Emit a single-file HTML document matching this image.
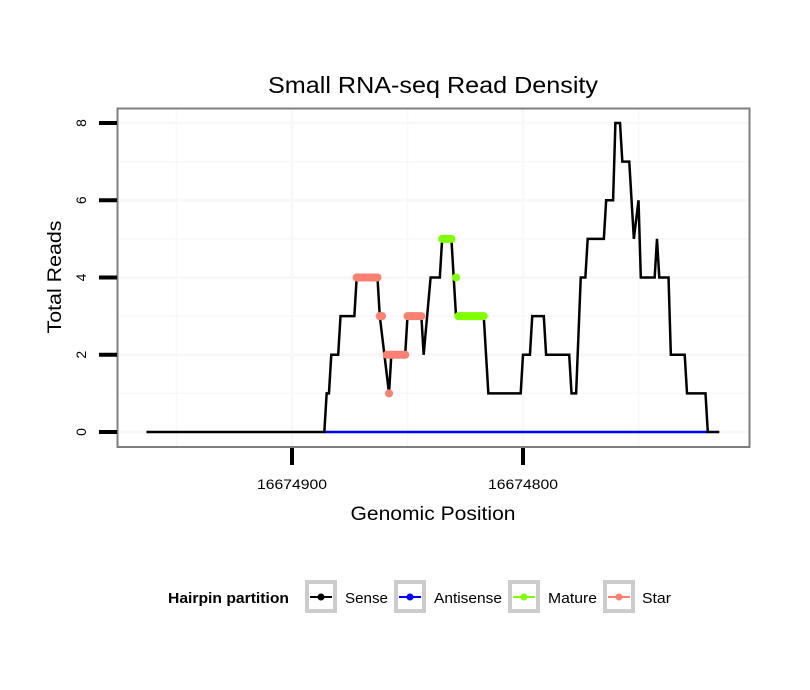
<!DOCTYPE html>
<html><head><meta charset="utf-8"><style>
html,body{margin:0;padding:0;background:#fff;}
svg{display:block;font-family:"Liberation Sans",sans-serif;}
</style></head><body>
<svg id="chart" width="810" height="690" viewBox="0 0 810 690">
<rect width="810" height="690" fill="#fff"/>
<text x="433" y="93" font-size="23" text-anchor="middle" fill="#000" textLength="330" lengthAdjust="spacingAndGlyphs">Small RNA-seq Read Density</text>
<g id="grid"></g>
<g id="series"></g>
<rect x="117.5" y="108.5" width="632" height="338.5" fill="none" stroke="#7f7f7f" stroke-width="2"/>
<g id="axes"></g>
<text x="433" y="520" font-size="19" text-anchor="middle" textLength="165" lengthAdjust="spacingAndGlyphs">Genomic Position</text>
<text transform="translate(61,277) rotate(-90)" font-size="19" text-anchor="middle" textLength="113" lengthAdjust="spacingAndGlyphs">Total Reads</text>
<g>
<text x="168" y="603" font-size="15" font-weight="bold" textLength="121" lengthAdjust="spacingAndGlyphs">Hairpin partition</text>
<g>
<rect x="307" y="582" width="28" height="29" fill="#fff" stroke="#cccccc" stroke-width="4"/>
<line x1="310" y1="597" x2="332" y2="597" stroke="#000" stroke-width="2"/><circle cx="321" cy="597" r="3.5" fill="#000"/>
<text x="345" y="603" font-size="15" textLength="43" lengthAdjust="spacingAndGlyphs">Sense</text></g>
<g>
<rect x="396" y="582" width="28" height="29" fill="#fff" stroke="#cccccc" stroke-width="4"/>
<line x1="399" y1="597" x2="421" y2="597" stroke="#0000ff" stroke-width="2"/><circle cx="410" cy="597" r="3.5" fill="#0000ff"/>
<text x="434" y="603" font-size="15" textLength="68" lengthAdjust="spacingAndGlyphs">Antisense</text></g>
<g>
<rect x="510" y="582" width="28" height="29" fill="#fff" stroke="#cccccc" stroke-width="4"/>
<line x1="513" y1="597" x2="535" y2="597" stroke="#7fff00" stroke-width="2"/><circle cx="524" cy="597" r="3.5" fill="#7fff00"/>
<text x="548" y="603" font-size="15" textLength="49" lengthAdjust="spacingAndGlyphs">Mature</text></g>
<g>
<rect x="605" y="582" width="28" height="29" fill="#fff" stroke="#cccccc" stroke-width="4"/>
<line x1="608" y1="597" x2="630" y2="597" stroke="#fa8072" stroke-width="2"/><circle cx="619" cy="597" r="3.5" fill="#fa8072"/>
<text x="642" y="603" font-size="15" textLength="29" lengthAdjust="spacingAndGlyphs">Star</text></g>
</g>
</svg>
<script>
const xTicks = [16674900, 16674800];
const yTicks = [0, 2, 4, 6, 8];
const senseOffsets = [-63,14,15,16,17,20,21,27,28,37,38,40,42,43,49,50,56,57,60,64,65,69,70,71,83,85,99,100,103,104,109,110,120,121,123,125,127,128,135,136,139,140,142,143,146,148,150,151,157,158,159,163,164,170,171,179,180,185];
const senseValues  = [0,0,1,1,2,2,3,3,4,4,3,2,1,2,2,3,3,2,4,4,5,5,4,3,3,1,1,2,2,3,3,2,2,1,1,4,4,5,5,6,6,8,8,7,7,5,6,4,4,5,4,4,2,2,1,1,0,0];
const antisenseOffsets = [14, 180];
const antisenseValues = [0, 0];
const starStart = [28, 38, 41, 42, 50];
const starEnd   = [37, 39, 49, 42, 56];
const starValue = [4, 3, 2, 1, 3];
const matureStart = [65, 71, 72];
const matureEnd   = [69, 71, 83];
const matureValue = [5, 4, 3];
const ORIGIN = 16674900;

const NS = "http://www.w3.org/2000/svg";
function xs(pos){ return 292 + (16674900 - pos) * 2.31; }
function ys(v){ return 432 - v * 38.625; }
function posOf(k){ return ORIGIN - k; }
function mk(tag, attrs, parent){ const e=document.createElementNS(NS,tag); for(const k in attrs) e.setAttribute(k,attrs[k]); parent.appendChild(e); return e; }

const grid=document.getElementById('grid'), series=document.getElementById('series'), axes=document.getElementById('axes');
for(let v=0; v<=8; v+=1){
  const l=mk('line',{x1:118,x2:749,y1:ys(v),y2:ys(v),stroke:'#f8f8f8','stroke-width':v%2?1.5:3},grid);
  
  
}
for(let p=16674950; p>=16674700; p-=50){
  const x=xs(p); if(x<118||x>749) continue;
  const l=mk('line',{x1:x,x2:x,y1:109,y2:446,stroke:'#f8f8f8','stroke-width':p%100?1.5:3},grid);
  
  
}
const ap=mk('polyline',{points:antisenseOffsets.map((k,i)=>xs(posOf(k))+','+ys(antisenseValues[i])).join(' '),fill:'none',stroke:'#0000ff','stroke-width':2.5},series);


const sp=mk('polyline',{points:senseOffsets.map((k,i)=>xs(posOf(k))+','+ys(senseValues[i])).join(' '),fill:'none',stroke:'#000','stroke-width':2.5,'stroke-linejoin':'miter'},series);


function segs(st,en,val,color,name){
  st.forEach((s,i)=>{
    const l=mk('line',{x1:xs(posOf(s)),x2:xs(posOf(en[i]))+0.01,y1:ys(val[i]),y2:ys(val[i]),stroke:color,'stroke-width':8,'stroke-linecap':'round'},series);
    
    
  });
}
segs(starStart,starEnd,starValue,'#fa8072','star-segment');
segs(matureStart,matureEnd,matureValue,'#7fff00','mature-segment');
yTicks.forEach(v=>{
  const t=mk('line',{x1:99,x2:117,y1:ys(v),y2:ys(v),stroke:'#000','stroke-width':4},axes);
  
  
  const tx=mk('text',{transform:'translate('+86+','+ys(v)+') rotate(-90)','font-size':14,'text-anchor':'middle'},axes);
  tx.textContent=v;
  
  
});
xTicks.forEach(p=>{
  const t=mk('line',{x1:xs(p),x2:xs(p),y1:448,y2:465,stroke:'#000','stroke-width':4},axes);
  
  
  const tx=mk('text',{x:xs(p),y:489,'font-size':14,'text-anchor':'middle',textLength:70,lengthAdjust:'spacingAndGlyphs'},axes);
  tx.textContent=p;
  
  
});
</script>
</body></html>
